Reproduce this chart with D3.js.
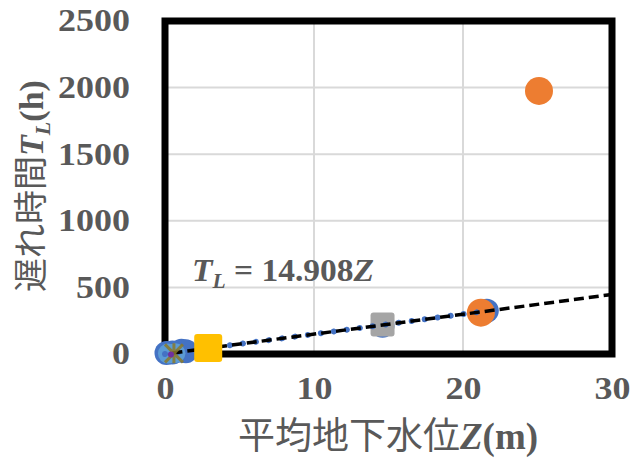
<!DOCTYPE html>
<html lang="ja">
<head>
  <meta charset="UTF-8">
  <title>遅れ時間と平均地下水位</title>
  <script src="https://d3js.org/d3.v7.min.js"></script>
  <style>
    body { margin: 0; background: #fff; }
    svg { display: block; }
    .tick-label { font-family: "Liberation Serif", "Times New Roman", serif; font-weight: bold; fill: #595959; }
  </style>
</head>
<body>
  <svg id="chart" width="631" height="462"></svg>
  <script>
    // Data
    const blueZ = [0.1, 0.5, 1.1, 1.4, 14.6, 21.6];
    const blueT = [8, 12, 25, 20, 212, 325];
    const lightBlueZ = [0.2, 0.7];
    const lightBlueT = [3, 6];
    const orangeZ = [21.2, 25.1];
    const orangeT = [310, 1975];
    const grayZ = [14.6];
    const grayT = [222];
    const yellowZ = [2.9];
    const yellowT = [45];
    const greenZ = [0.6];
    const greenT = [5];
    const purpleZ = [0.4];
    const purpleT = [-3];

    const xTicks = [0, 10, 20, 30];
    const yTicks = [0, 500, 1000, 1500, 2000, 2500];
    const slopeAll = 14.908;   // black dashed trend line
    const slopeBlue = 14.95;   // blue dotted trend line
    const blueTrendMax = 21.6;

    const zip = (xs, ys) => xs.map((x, i) => ({ z: x, t: ys[i] }));

    const svg = d3.select("#chart");
    const x = d3.scaleLinear().domain([0, 30]).range([165, 612]);
    const y = d3.scaleLinear().domain([0, 2500]).range([354, 21]);

    // gridlines
    svg.append("g").selectAll("line").data(xTicks.slice(1, -1)).join("line")
      .attr("x1", d => x(d)).attr("x2", d => x(d))
      .attr("y1", y(0)).attr("y2", y(2500))
      .attr("stroke", "#d9d9d9").attr("stroke-width", 2);
    svg.append("g").selectAll("line").data(yTicks.slice(1, -1)).join("line")
      .attr("x1", x(0)).attr("x2", x(30))
      .attr("y1", d => y(d)).attr("y2", d => y(d))
      .attr("stroke", "#d9d9d9").attr("stroke-width", 2);

    // plot border
    svg.append("rect")
      .attr("x", x(0)).attr("y", y(2500))
      .attr("width", x(30) - x(0)).attr("height", y(0) - y(2500))
      .attr("fill", "none").attr("stroke", "#000").attr("stroke-width", 7);

    // axes (labels only)
    const yAxis = svg.append("g").attr("transform", `translate(${x(0)},0)`)
      .call(d3.axisLeft(y).tickValues(yTicks).tickFormat(d3.format("d")).tickSize(0).tickPadding(35));
    const xAxis = svg.append("g").attr("transform", `translate(0,${y(0)})`)
      .call(d3.axisBottom(x).tickValues(xTicks).tickFormat(d3.format("d")).tickSize(0).tickPadding(23));
    [yAxis, xAxis].forEach(a => {
      a.select(".domain").remove();
      a.selectAll("text").attr("class", "tick-label").style("font-size", "31px")
        .attr("textLength", d => String(d).length * 18)
        .attr("lengthAdjust", "spacingAndGlyphs");
    });

    // markers
    const circles = (data, color, r) => svg.append("g").selectAll("circle").data(data).join("circle")
      .attr("cx", d => x(d.z)).attr("cy", d => y(d.t)).attr("r", r).attr("fill", color);
    const squares = (data, color, s) => svg.append("g").selectAll("rect").data(data).join("rect")
      .attr("x", d => x(d.z) - s / 2).attr("y", d => y(d.t) - s / 2)
      .attr("width", s).attr("height", s).attr("rx", 3).attr("fill", color);

    circles(zip(blueZ, blueT), "#4472C4", 12);
    circles(zip(lightBlueZ, lightBlueT), "#5B9BD5", 10);
    squares(zip(grayZ, grayT), "#A5A5A5", 24);
    circles(zip(orangeZ, orangeT), "#ED7D31", 14);

    // trend lines
    svg.append("line")
      .attr("x1", x(0)).attr("y1", y(0))
      .attr("x2", x(blueTrendMax)).attr("y2", y(slopeBlue * blueTrendMax))
      .attr("stroke", "#4472C4").attr("stroke-width", 6)
      .attr("stroke-linecap", "round").attr("stroke-dasharray", "0.1,13");
    svg.append("line")
      .attr("x1", x(0.5)).attr("y1", y(slopeAll * 0.5))
      .attr("x2", x(30)).attr("y2", y(slopeAll * 30))
      .attr("stroke", "#000").attr("stroke-width", 3.5)
      .attr("stroke-dasharray", "10,5");

    squares(zip(yellowZ, yellowT), "#FFC000", 28);

    // green star marker and purple dot
    const star = svg.append("g").selectAll("g").data(zip(greenZ, greenT)).join("g")
      .attr("transform", d => `translate(${x(d.z)},${y(d.t)})`);
    star.append("path").attr("d", "M-9,-9L9,9M-9,9L9,-9M0,-10L0,10")
      .attr("stroke", "#8a7a2a").attr("stroke-width", 3).attr("opacity", 0.85);
    circles(zip(purpleZ, purpleT), "#7030A0", 3);

    // equation label
    const eq = svg.append("text").attr("x", 192).attr("y", 281)
      .attr("class", "tick-label").style("font-size", "31px")
      .attr("textLength", 182).attr("lengthAdjust", "spacingAndGlyphs");
    eq.append("tspan").attr("font-style", "italic").text("T");
    eq.append("tspan").attr("font-style", "italic").attr("font-size", "20px").attr("dy", 7).text("L");
    eq.append("tspan").attr("dy", -7).text(" = 14.908");
    eq.append("tspan").attr("font-style", "italic").text("Z");

    // axis titles
    const xt = svg.append("text").attr("x", 388).attr("y", 449).attr("text-anchor", "middle")
      .attr("fill", "#595959").style("font-size", "37px");
    xt.append("tspan").style("font-family", "'Noto Sans CJK JP'").text("平均地下水位");
    xt.append("tspan").attr("class", "tick-label").attr("font-style", "italic").text("Z");
    xt.append("tspan").attr("class", "tick-label").text("(m)");

    const yt = svg.append("text").attr("transform", "translate(43,186) rotate(-90)")
      .attr("text-anchor", "middle").attr("fill", "#595959").style("font-size", "34px");
    yt.append("tspan").style("font-family", "'Noto Sans CJK JP'").text("遅れ時間");
    yt.append("tspan").attr("class", "tick-label").attr("font-style", "italic").text("T");
    yt.append("tspan").attr("class", "tick-label").attr("font-style", "italic")
      .attr("font-size", "22px").attr("dy", 7).text("L");
    yt.append("tspan").attr("class", "tick-label").attr("dy", -7).text("(h)");
  </script>
</body>
</html>
